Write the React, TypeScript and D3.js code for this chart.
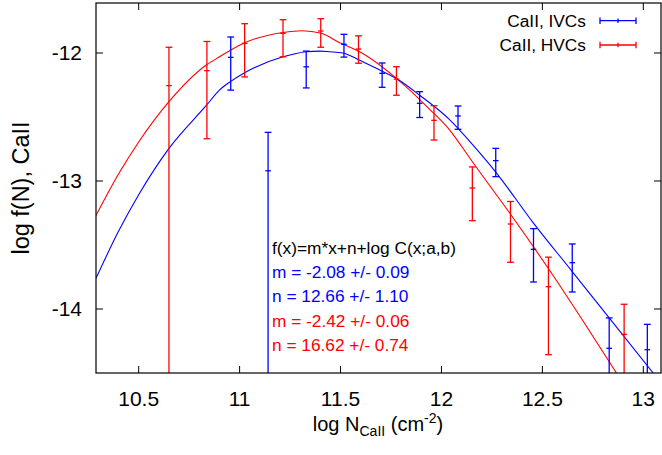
import React from "react";
import * as d3 from "d3";

// ---------- data ----------
const xTicks = [10.5, 11, 11.5, 12, 12.5, 13];
const yTicks = [-12, -13, -14];

// IVC (blue) measured points
const ivcX = [10.956, 11.141, 11.33, 11.517, 11.706, 11.892, 12.082, 12.269, 12.456, 12.648, 12.831, 13.02];
const ivcY = [-12.034, -12.92, -12.108, -11.932, -12.159, -12.393, -12.492, -12.841, -13.534, -13.638, -14.307, -14.318];
const ivcHi = [-11.875, -12.62, -11.985, -11.854, -12.078, -12.302, -12.414, -12.745, -13.372, -13.492, -14.07, -14.12];
const ivcLo = [-12.29, -15.5, -12.273, -12.032, -12.268, -12.504, -12.596, -12.966, -13.789, -13.867, -15.5, -15.5];

// HVC (red) measured points
const hvcX = [10.65, 10.838, 11.025, 11.215, 11.402, 11.589, 11.777, 11.963, 12.153, 12.342, 12.53, 12.905];
const hvcY = [-12.255, -12.138, -11.925, -11.846, -11.828, -11.969, -12.204, -12.526, -13.055, -13.336, -13.826, -14.198];
const hvcHi = [-11.955, -11.91, -11.771, -11.74, -11.732, -11.866, -12.107, -12.412, -12.89, -13.16, -13.595, -13.963];
const hvcLo = [-15.5, -12.67, -12.187, -12.03, -11.955, -12.08, -12.33, -12.68, -13.31, -13.635, -14.357, -15.5];

// fitted curves
const ivcFitX = [10.2885, 10.4, 10.5, 10.65, 10.835, 10.9, 10.954, 11.025, 11.215, 11.33, 11.397, 11.446, 11.512, 11.587, 11.694, 11.777, 11.892, 12.04, 12.14, 12.269, 12.454, 12.644, 12.831, 13.049];
const ivcFitY = [-13.76, -13.393, -13.107, -12.745, -12.41, -12.29, -12.224, -12.154, -12.03, -11.99, -11.985, -11.99, -12.0, -12.05, -12.133, -12.2, -12.33, -12.52, -12.69, -12.93, -13.325, -13.70, -14.07, -14.5];
const hvcFitX = [10.2885, 10.4, 10.5, 10.65, 10.835, 10.9, 11.025, 11.215, 11.31, 11.405, 11.496, 11.595, 11.777, 11.942, 12.04, 12.14, 12.19, 12.338, 12.528, 12.7, 12.867];
const hvcFitY = [-13.27, -12.946, -12.695, -12.38, -12.094, -12.03, -11.92, -11.84, -11.826, -11.846, -11.92, -11.99, -12.198, -12.44, -12.60, -12.82, -12.93, -13.25, -13.68, -14.09, -14.5];

const legendLabels = ["CaII, IVCs", "CaII, HVCs"];
const annotLines = [
  "f(x)=m*x+n+log C(x;a,b)",
  "m = -2.08 +/- 0.09",
  "n = 12.66 +/- 1.10",
  "m = -2.42 +/- 0.06",
  "n = 16.62 +/- 0.74",
];
const annotColors = ["#000000", "#0000ff", "#0000ff", "#ff0000", "#ff0000"];

// ---------- layout ----------
const W = 662, H = 455;
const L = 96, R = 661, T = 3, B = 373;
const BLUE = "#0000ff", RED = "#ff0000";
const FONT = "'Liberation Sans', Arial, Helvetica, sans-serif";

export default function App() {
  const x = d3.scaleLinear().domain([10.2885, 13.0877]).range([L, R]);
  const y = d3.scaleLinear().domain([-14.5, -11.6094]).range([B, T]);

  const line = d3.line<[number, number]>().x(d => x(d[0])).y(d => y(d[1])).curve(d3.curveMonotoneX);
  const ivcFit = line(ivcFitX.map((v, i) => [v, ivcFitY[i]]));
  const hvcFit = line(hvcFitX.map((v, i) => [v, hvcFitY[i]]));

  const cap = 3.4, arm = 2.8;
  const errBars = (xs: number[], ys: number[], hi: number[], lo: number[], color: string, key: string) =>
    xs.map((xv, i) => {
      const cx = x(xv), cy = y(ys[i]), yh = y(hi[i]), yl = y(lo[i]);
      return (
        <g key={key + i} stroke={color} strokeWidth={1.3} fill="none">
          <line x1={cx} x2={cx} y1={yh} y2={yl} />
          <line x1={cx - cap} x2={cx + cap} y1={yh} y2={yh} />
          <line x1={cx - cap} x2={cx + cap} y1={yl} y2={yl} />
          <line x1={cx - arm} x2={cx + arm} y1={cy} y2={cy} />
        </g>
      );
    });

  const legendColors = [BLUE, RED];
  const legendY = [20.7, 45];

  return (
    <svg width={W} height={H} style={{ position: "absolute", left: 0, top: 0, background: "#fff" }}>
      <defs>
        <clipPath id="plotClip">
          <rect x={L} y={T} width={R - L} height={B - T} />
        </clipPath>
      </defs>
      <rect x={0} y={0} width={W} height={H} fill="#fff" />

      <g clipPath="url(#plotClip)">
        <path d={hvcFit || ""} stroke={RED} strokeWidth={1.1} fill="none" />
        <path d={ivcFit || ""} stroke={BLUE} strokeWidth={1.1} fill="none" />
        {errBars(hvcX, hvcY, hvcHi, hvcLo, RED, "h")}
        {errBars(ivcX, ivcY, ivcHi, ivcLo, BLUE, "i")}
      </g>

      {/* frame */}
      <rect x={L} y={T} width={R - L} height={B - T} fill="none" stroke="#000" strokeWidth={1.2} />

      {/* x ticks */}
      {xTicks.map(t => (
        <g key={"xt" + t}>
          <line x1={x(t)} x2={x(t)} y1={B} y2={B - 7} stroke="#000" />
          <line x1={x(t)} x2={x(t)} y1={T} y2={T + 7} stroke="#000" />
          <text x={x(t)} y={406} textAnchor="middle" fontFamily={FONT} fontSize={21} fill="#000">{t}</text>
        </g>
      ))}
      {/* y ticks */}
      {yTicks.map(t => (
        <g key={"yt" + t}>
          <line x1={L} x2={L + 7} y1={y(t)} y2={y(t)} stroke="#000" />
          <line x1={R} x2={R - 7} y1={y(t)} y2={y(t)} stroke="#000" />
          <text x={82} y={y(t) + 7.5} textAnchor="end" fontFamily={FONT} fontSize={21} fill="#000">{t}</text>
        </g>
      ))}

      {/* axis labels */}
      <text x={378} y={431} textAnchor="middle" fontFamily={FONT} fontSize={20} fill="#000">
        log N<tspan dy={5} fontSize={14}>CaII</tspan><tspan dy={-5}> (cm</tspan><tspan dy={-8} fontSize={14}>-2</tspan><tspan dy={8}>)</tspan>
      </text>
      <text transform={`translate(29,188) rotate(-90)`} textAnchor="middle" fontFamily={FONT} fontSize={23.5} fill="#000">
        log f(N), CaII
      </text>

      {/* legend */}
      {legendLabels.map((lab, i) => (
        <g key={"lg" + i}>
          <text x={586} y={legendY[i] + 6.2} textAnchor="end" fontFamily={FONT} fontSize={17.3} fill="#000">{lab}</text>
          <g stroke={legendColors[i]} strokeWidth={1.3}>
            <line x1={600} x2={636} y1={legendY[i]} y2={legendY[i]} />
            <line x1={600} x2={600} y1={legendY[i] - 3.3} y2={legendY[i] + 3.3} />
            <line x1={636} x2={636} y1={legendY[i] - 3.3} y2={legendY[i] + 3.3} />
            <line x1={618} x2={618} y1={legendY[i] - 2.2} y2={legendY[i] + 2.2} />
          </g>
        </g>
      ))}

      {/* annotation */}
      {annotLines.map((s, i) => (
        <text key={"an" + i} x={272} y={253.5 + i * 24.4} fontFamily={FONT} fontSize={17.3} fill={annotColors[i]}>{s}</text>
      ))}
    </svg>
  );
}
